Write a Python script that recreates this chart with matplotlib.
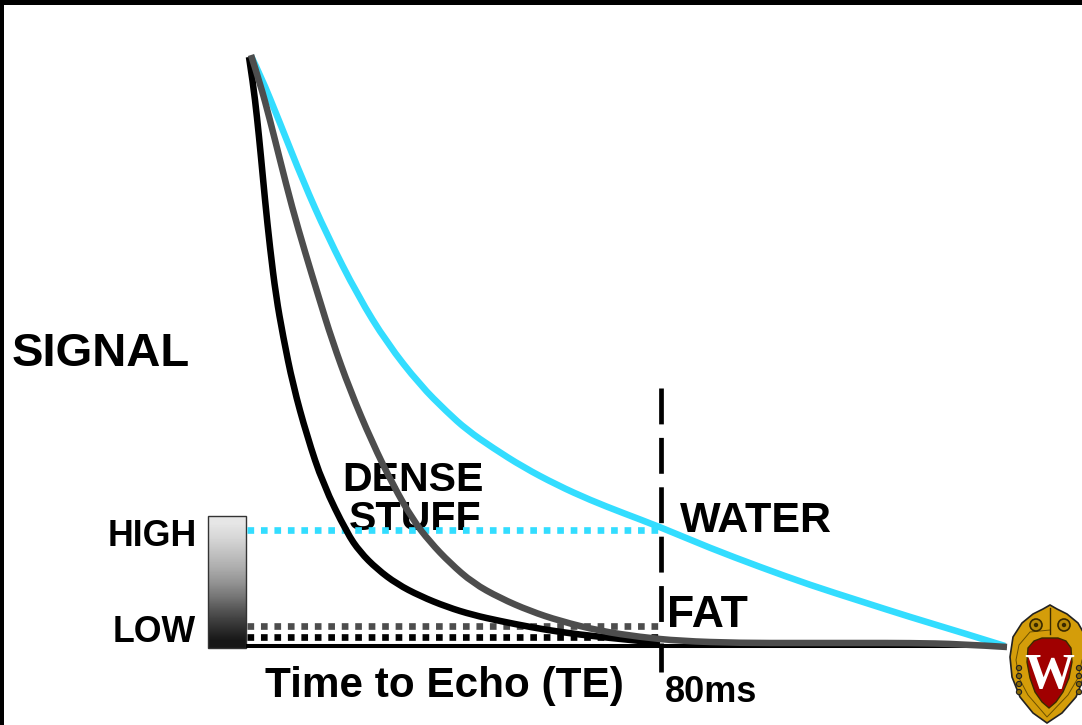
import matplotlib
matplotlib.use("Agg")
import matplotlib.pyplot as plt
from matplotlib.patches import Polygon, Rectangle, Circle, PathPatch
from matplotlib.path import Path

plt.rcParams['font.family'] = ['Liberation Sans', 'DejaVu Sans']

# curves, axes run in picture pixels
water_x = [251, 260, 280, 303, 327, 358, 387, 420, 447, 467, 493, 523, 557, 590, 623, 660, 710, 760, 810, 860, 910,
           960, 1005]
water_y = [56, 74, 123, 181, 235, 296, 343, 385, 412, 430, 448, 467, 485, 500, 513, 527, 548, 567, 585, 601, 617,
           632, 646]
fat_x = [251, 260, 270, 280, 292, 305, 319, 332, 350, 372, 393, 413, 430, 450, 473, 500, 530, 560, 600, 640, 680,
         740, 800, 860, 910, 960, 1007]
fat_y = [55, 83, 120, 160, 207, 252, 298, 340, 390, 442, 485, 520, 542, 563, 583, 598, 611, 621, 631, 637, 641,
         643, 643, 643, 643, 644, 647]
dense_x = [249, 253, 257, 261, 265, 270, 276, 283, 293, 307, 323, 347, 360, 377, 397, 420, 447, 473, 500, 530, 560,
           600, 660]
dense_y = [57, 83, 117, 157, 200, 248, 296, 336, 385, 436, 484, 533, 552, 569, 584, 596, 607, 615, 621, 627, 632,
           637, 643]

high_y = 530
fat_level = 626
dense_level = 637
base_y = 646
te_x = 661
bar_greys = [0.90, 0.84, 0.76, 0.68, 0.58, 0.46, 0.32, 0.2, 0.09]

CYAN = '#33ddff'
GREY = '#4d4d4d'


def smooth(xs, ys, color, z):
    # the read points are the control points of a quadratic curve
    verts = [(xs[0], ys[0])]
    codes = [Path.MOVETO]
    for i in range(1, len(xs) - 1):
        if i == len(xs) - 2:
            end = (xs[i + 1], ys[i + 1])
        else:
            end = ((xs[i] + xs[i + 1]) / 2, (ys[i] + ys[i + 1]) / 2)
        verts += [(xs[i], ys[i]), end]
        codes += [Path.CURVE3, Path.CURVE3]
    ax.add_patch(PathPatch(Path(verts, codes), fill=False, ec=color, lw=4.7, capstyle='butt', joinstyle='round',
                           zorder=z))


fig = plt.figure(figsize=(10.82, 7.25), dpi=100)
ax = fig.add_axes([0, 0, 1, 1])
ax.set_xlim(0, 1082)
ax.set_ylim(725, 0)
ax.axis('off')

# frame
ax.add_patch(Rectangle((0, 0), 1082, 4.5, color='black', lw=0, zorder=1))
ax.add_patch(Rectangle((0, 0), 3.5, 725, color='black', lw=0, zorder=1))

# grey scale bar
ax.imshow([[g] for g in bar_greys], extent=(208, 246, 648, 516), cmap='gray', vmin=0, vmax=1,
          aspect='auto', interpolation='bilinear', zorder=2)
ax.set_xlim(0, 1082)
ax.set_ylim(725, 0)
ax.add_patch(Rectangle((208, 516), 38, 132, fill=False, ec='#333333', lw=1, zorder=3))

ax.plot([246, 1007], [base_y, base_y], color='black', lw=2.9, solid_capstyle='butt', zorder=4)

# TE marker
ax.plot([te_x, te_x], [388, 624], color='black', lw=3.4, linestyle=(0, (7.6, 2.86)), dash_capstyle='butt', zorder=4)
ax.plot([te_x, te_x], [643, 672], color='black', lw=3.4, solid_capstyle='butt', zorder=4)

# dotted levels
for level, col in [(high_y, CYAN), (fat_level, GREY), (dense_level, 'black')]:
    ax.plot([247, 660], [level, level], color=col, lw=4.8, linestyle=(0, (1, 1.02)), dash_capstyle='butt', zorder=6)

# text goes under the curves
txt = dict(color='black', fontweight='bold', zorder=3.5, va='baseline')
ax.text(12, 366, 'SIGNAL', fontsize=34, ha='left', **txt)
ax.text(413, 491, 'DENSE', fontsize=29.6, ha='center', **txt)
ax.text(415, 530, 'STUFF', fontsize=29.6, ha='center', **txt)
ax.text(197, 546, 'HIGH', fontsize=25.7, ha='right', **txt)
ax.text(196, 642, 'LOW', fontsize=25.7, ha='right', **txt)
ax.text(444, 697, 'Time to Echo (TE)', fontsize=30.4, ha='center', **txt)
ax.text(680, 532, 'WATER', fontsize=31, ha='left', **txt)
ax.text(667, 627, 'FAT', fontsize=32, ha='left', **txt)
ax.text(665, 702, '80ms', fontsize=26, ha='left', **txt)

# curves
smooth(water_x, water_y, CYAN, 7)
smooth(dense_x, dense_y, 'black', 8)
smooth(fat_x, fat_y, GREY, 9)

# crest in the corner
crest_x = [1050, 1043, 1033, 1022, 1013, 1010, 1012, 1020, 1033, 1047, 1062, 1076, 1084, 1088, 1086, 1078, 1067, 1057]
crest_y = [605, 609, 614, 623, 637, 657, 677, 697, 713, 723, 713, 697, 677, 657, 637, 623, 614, 609]
shield_x = [1034, 1042, 1050, 1058, 1066, 1071, 1072, 1069, 1063, 1056, 1049, 1042, 1035, 1030, 1027, 1028]
shield_y = [641, 638, 638, 638, 641, 648, 662, 678, 692, 702, 708, 702, 692, 678, 662, 648]
ring_x = [1050, 1030, 1019, 1016, 1019, 1028, 1047, 1068, 1078, 1082]
ring_y = [630, 632, 645, 660, 678, 695, 717, 695, 678, 660]
scroll_x = [1036, 1064]
bead_y = [668, 676, 684, 692]
ax.add_patch(Polygon(list(zip(crest_x, crest_y)), closed=True, fc='#d49d0a', ec='#222222', lw=1.2, zorder=10))
ax.plot(ring_x, ring_y, color='#6b5000', lw=0.7, zorder=10.5)
for sx in scroll_x:
    ax.add_patch(Circle((sx, 625), 6, fc='#b98a08', ec='#3a2a00', lw=1.2, zorder=11))
    ax.add_patch(Circle((sx, 625), 2.2, fc='#3a2a00', lw=0, zorder=11))
for by in bead_y:
    ax.add_patch(Circle((1019, by), 2.6, fc='#8a6a05', ec='#222222', lw=0.8, zorder=11))
    ax.add_patch(Circle((1079, by), 2.6, fc='#8a6a05', ec='#222222', lw=0.8, zorder=11))
ax.plot([1050, 1050], [608, 634], color='#3a2a00', lw=1, zorder=11)
ax.add_patch(Polygon(list(zip(shield_x, shield_y)), closed=True, fc='#a00000', ec='#3a2a00', lw=1, zorder=11))
ax.text(1049, 688, 'W', fontsize=36, family='Liberation Serif', fontweight='bold', color='white', ha='center',
        va='baseline', zorder=12)

fig.savefig('out.png', dpi=100)
